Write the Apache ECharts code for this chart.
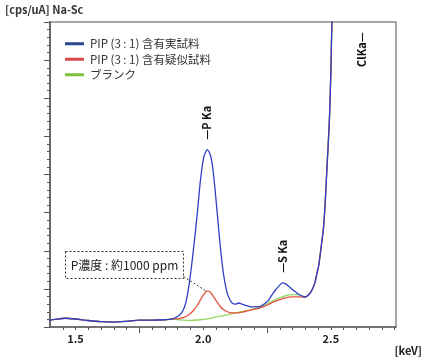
<!DOCTYPE html>
<html><head><meta charset="utf-8">
<script src="https://cdn.jsdelivr.net/npm/echarts@6/dist/echarts.min.js"></script>
<style>html,body{margin:0;padding:0;background:#fff}#c{width:425px;height:360px}</style>
</head><body><div id="c"></div>
<script>
// ---- data (keV, relative intensity) ----
const seriesNames = ['PIP (3 : 1) 含有実試料', 'PIP (3 : 1) 含有疑似試料', 'ブランク'];
const baseline = [[1.39,0.17],[1.42,0.20],[1.46,0.23],[1.50,0.21],[1.55,0.17],[1.60,0.14],[1.65,0.13],[1.70,0.15],[1.75,0.18],[1.80,0.18],[1.85,0.19],[1.88,0.21]];
const clRise = [[2.415,0.86],[2.426,0.97],[2.437,1.15],[2.445,1.40],[2.452,1.6],[2.460,2.0],[2.471,2.6],[2.478,3.3],[2.484,4.1],[2.494,5.4],[2.500,6.7],[2.504,8.0],[2.515,10.0]];
const realSample = [[1.905,0.30],[1.92,0.42],[1.931,0.62],[1.944,1.08],[1.957,1.75],[1.970,2.54],[1.980,3.2],[1.989,3.84],[2.002,4.45],[2.016,4.65],[2.026,4.55],[2.035,4.29],[2.045,3.7],[2.055,2.98],[2.065,2.25],[2.074,1.67],[2.084,1.2],[2.094,0.89],[2.104,0.72],[2.113,0.63],[2.126,0.60],[2.139,0.63],[2.152,0.60],[2.165,0.57],[2.185,0.53],[2.217,0.53],[2.250,0.66],[2.270,0.85],[2.283,0.97],[2.297,1.08],[2.310,1.16],[2.323,1.13],[2.336,1.06],[2.352,0.97],[2.369,0.88],[2.385,0.82],[2.400,0.79]];
const mockSample = [[1.905,0.22],[1.924,0.25],[1.945,0.33],[1.963,0.44],[1.977,0.57],[1.989,0.71],[2.003,0.86],[2.016,0.95],[2.028,0.91],[2.041,0.79],[2.055,0.65],[2.068,0.53],[2.081,0.45],[2.094,0.40],[2.113,0.37],[2.133,0.37],[2.16,0.40],[2.185,0.44],[2.217,0.49],[2.25,0.57],[2.276,0.66],[2.31,0.74],[2.341,0.79],[2.38,0.79],[2.40,0.78]];
const blank = [[1.905,0.19],[1.95,0.17],[1.989,0.19],[2.02,0.22],[2.055,0.27],[2.09,0.31],[2.12,0.36],[2.15,0.40],[2.185,0.45],[2.217,0.52],[2.25,0.60],[2.276,0.70],[2.31,0.79],[2.341,0.85],[2.37,0.85],[2.40,0.79]];
const xLabels = [1.5, 2.0, 2.5];
const xMajorTicks = [1.75, 2.25];
const peaks = [{text:'—P Ka', keV:2.015, y:4.65}, {text:'—S Ka', keV:2.31, y:1.16}];
const clLabel = {text:'ClKa—', keV:2.62};
const noteText = 'P濃度 : 約1000 ppm';
const notePeak = [2.010, 0.95];

const FONT = "'Noto Sans CJK JP', 'Noto Sans', sans-serif";
const lineColors = ['#2e3ec8', '#e5533f', '#92d862'];
const legendColors = ['#26488e', '#d84a4a', '#80c040'];

const chart = echarts.init(document.getElementById('c'), null, {renderer:'canvas'});
const full = arr => baseline.concat(arr, clRise);
const datasets = [full(realSample), full(mockSample), full(blank)];

const series = [2,1,0].map(i => ({
  name: seriesNames[i], type:'line', data: datasets[i], showSymbol:false, smooth:0.25,
  lineStyle:{color:lineColors[i], width:1.3}, itemStyle:{color:lineColors[i]},
  z: 3-i, silent:true, animation:false, clip:true
}));

const baseGraphic = [
  {type:'text', left:5, top:4, style:{text:'[cps/uA] Na-Sc', font:"bold 11px "+FONT, fill:'#333'}},
  {type:'text', right:3, top:345, style:{text:'[keV]', font:"bold 11px "+FONT, fill:'#222'}}
];

chart.setOption({
  animation:false,
  grid:{left:50, right:29, top:22, bottom:33, show:true, borderColor:'#8a8a8a', borderWidth:1.5, backgroundColor:'transparent'},
  legend:{
    orient:'vertical', left:60, top:33, itemWidth:19, itemHeight:3, itemGap:4, icon:'rect',
    textStyle:{fontFamily:FONT, fontSize:11.5, color:'#333', padding:[0,0,0,1]},
    data: seriesNames.map((n,i)=>({name:n, itemStyle:{color:legendColors[i]}}))
  },
  xAxis:[{
    type:'value', min:1.4, max:2.755, interval:0.05,
    axisLine:{show:true, lineStyle:{color:'#666', width:1.5}},
    axisTick:{show:true, length:3, lineStyle:{color:'#555'}},
    splitLine:{show:false},
    axisLabel:{show:true, margin:6, fontFamily:FONT, fontSize:11, fontWeight:'bold', color:'#222',
      showMinLabel:false, showMaxLabel:false,
      formatter: v => xLabels.some(l => Math.abs(l - v) < 1e-6) ? v.toFixed(1) : ''}
  },{
    type:'value', min:1.4, max:2.755, position:'bottom',
    axisLine:{show:false}, splitLine:{show:false},
    axisTick:{show:true, length:6, customValues:xMajorTicks, lineStyle:{color:'#555'}},
    axisLabel:{show:false}
  }],
  yAxis:{
    type:'value', min:0, max:8, interval:1,
    axisLine:{show:true, lineStyle:{color:'#555', width:1.5}},
    axisTick:{show:true, length:6, lineStyle:{color:'#555'}},
    minorTick:{show:true, splitNumber:5, length:3, lineStyle:{color:'#555'}},
    axisLabel:{show:false}, splitLine:{show:false}
  },
  series: series
});

// annotations placed through the axes' scales
const px = (x,y) => chart.convertToPixel({xAxisIndex:0, yAxisIndex:0}, [x,y]);
const g = baseGraphic.slice();
peaks.forEach(p => {
  const pt = px(p.keV, p.y);
  g.push({type:'text', x:pt[0], y:pt[1]-10, rotation:Math.PI/2,
    style:{text:p.text, font:"bold 11px "+FONT, fill:'#111', textAlign:'left', textVerticalAlign:'middle'}});
});
const cp = px(clLabel.keV, 7.0);
g.push({type:'text', x:cp[0], y:67, rotation:Math.PI/2,
  style:{text:clLabel.text, font:"bold 11px "+FONT, fill:'#111', textAlign:'left', textVerticalAlign:'middle'}});
g.push({type:'rect', shape:{x:65.5, y:251.5, width:118, height:27},
  style:{fill:'#fff', stroke:'#333', lineWidth:1, lineDash:[2,2]}, z:10});
g.push({type:'text', x:124.5, y:265.5, z:11,
  style:{text:noteText, font:"12px "+FONT, fill:'#222', textAlign:'center', textVerticalAlign:'middle'}});
const np = px(notePeak[0], notePeak[1]);
g.push({type:'line', shape:{x1:183.5, y1:276.5, x2:np[0], y2:np[1]},
  style:{stroke:'#333', lineWidth:1, lineDash:[2,2]}, z:10});
chart.setOption({graphic: g});
</script>
</body></html>
